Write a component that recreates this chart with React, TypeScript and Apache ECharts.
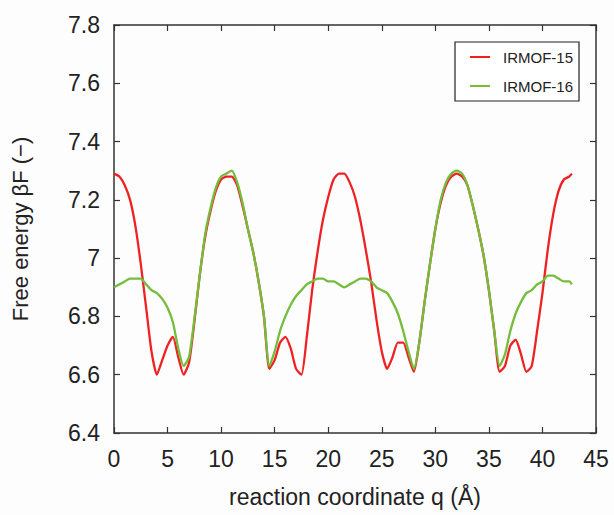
import React, { useEffect, useRef } from "react";
import * as echarts from "echarts";

const qValues = [
  0, 0.5, 1, 1.5, 2, 2.5, 3, 3.5, 4, 4.5, 5, 5.5, 6, 6.5, 7, 7.5, 8, 8.5, 9, 9.5,
  10, 10.5, 11, 11.5, 12, 12.5, 13, 13.5, 14, 14.5, 15, 15.5, 16, 16.5, 17, 17.5, 18, 18.5, 19, 19.5,
  20, 20.5, 21, 21.5, 22, 22.5, 23, 23.5, 24, 24.5, 25, 25.5, 26, 26.5, 27, 27.5, 28, 28.5, 29, 29.5,
  30, 30.5, 31, 31.5, 32, 32.5, 33, 33.5, 34, 34.5, 35, 35.5, 36, 36.5, 37, 37.5, 38, 38.5, 39, 39.5,
  40, 40.5, 41, 41.5, 42, 42.5, 42.75,
];

const irmof15 = [
  7.29, 7.28, 7.25, 7.2, 7.11, 6.98, 6.83, 6.68, 6.6, 6.65, 6.7, 6.73, 6.66, 6.6, 6.64, 6.78, 6.94, 7.07, 7.16, 7.23,
  7.27, 7.28, 7.28, 7.25, 7.18, 7.1, 7.02, 6.92, 6.8, 6.62, 6.65, 6.71, 6.73, 6.69, 6.62, 6.6, 6.73, 6.89, 7.02, 7.13,
  7.21, 7.27, 7.29, 7.29, 7.26, 7.21, 7.13, 7.03, 6.92, 6.79, 6.68, 6.62, 6.66, 6.71, 6.71, 6.66, 6.61, 6.71, 6.85, 6.98,
  7.1, 7.19, 7.25, 7.28, 7.29, 7.28, 7.25, 7.18, 7.1, 7.01, 6.89, 6.75, 6.61, 6.63, 6.7, 6.72, 6.67, 6.61, 6.63, 6.75,
  6.88, 7.03, 7.15, 7.23, 7.27, 7.28, 7.29,
];

const irmof16 = [
  6.9, 6.91, 6.92, 6.93, 6.93, 6.93, 6.91, 6.89, 6.88, 6.86, 6.83, 6.78, 6.69, 6.63, 6.66, 6.79, 6.94, 7.08, 7.17, 7.24,
  7.28, 7.29, 7.3, 7.26, 7.19, 7.1, 7.02, 6.92, 6.8, 6.63, 6.68, 6.75, 6.8, 6.84, 6.87, 6.89, 6.91, 6.92, 6.93, 6.93,
  6.92, 6.92, 6.91, 6.9, 6.91, 6.92, 6.93, 6.93, 6.92, 6.9, 6.89, 6.88, 6.85, 6.81, 6.75, 6.68, 6.62, 6.71, 6.85, 6.98,
  7.1, 7.2, 7.26, 7.29, 7.3, 7.29, 7.25, 7.18, 7.1, 7.01, 6.89, 6.75, 6.63, 6.67, 6.75, 6.81, 6.85, 6.88, 6.89, 6.91,
  6.92, 6.94, 6.94, 6.93, 6.92, 6.92, 6.91,
];

const seriesNames = ["IRMOF-15", "IRMOF-16"];
const xTitle = "reaction coordinate q (Å)";
const yTitle = "Free energy βF (−)";

export default function App() {
  const ref = useRef<HTMLDivElement>(null);
  useEffect(() => {
    if (!ref.current) return;
    const chart = echarts.init(ref.current, null, { renderer: "svg" });
    const font = "'Liberation Sans', Arial, Helvetica, sans-serif";
    const axisColor = "#333";
    const pair = (ys: number[]) => qValues.map((q, i) => [q, ys[i]]);
    chart.setOption({
      animation: false,
      backgroundColor: "#fdfdfd",
      grid: { left: 114, right: 18, top: 25, bottom: 82 },
      legend: {
        orient: "vertical",
        left: 455,
        top: 42,
        data: seriesNames.map((n) => ({ name: n, icon: "rect" })),
        itemWidth: 20,
        itemHeight: 2,
        itemGap: 11,
        padding: [6, 6, 6, 15],
        borderColor: "#222",
        borderWidth: 1.2,
        borderRadius: 0,
        backgroundColor: "#fff",
        textStyle: { fontFamily: font, fontSize: 15, color: "#222", padding: [0, 0, 0, 8], lineHeight: 18 },
      },
      xAxis: [
        {
          type: "value",
          min: 0,
          max: 45,
          interval: 5,
          name: xTitle,
          nameLocation: "middle",
          nameGap: 52,
          nameTextStyle: { fontFamily: font, fontSize: 23, color: "#222" },
          axisLine: { onZero: false, lineStyle: { color: axisColor, width: 1.5 } },
          axisTick: { inside: true, length: 6, lineStyle: { color: axisColor, width: 1.2 } },
          axisLabel: { fontFamily: font, fontSize: 23, color: "#222", margin: 14 },
          splitLine: { show: false },
        },
        {
          type: "value",
          position: "top",
          min: 0,
          max: 45,
          interval: 5,
          axisLine: { onZero: false, lineStyle: { color: axisColor, width: 1.5 } },
          axisTick: { inside: true, length: 6, lineStyle: { color: axisColor, width: 1.2 } },
          axisLabel: { show: false },
          splitLine: { show: false },
        },
      ],
      yAxis: [
        {
          type: "value",
          min: 6.4,
          max: 7.8,
          interval: 0.2,
          name: yTitle,
          nameLocation: "middle",
          nameGap: 83,
          nameTextStyle: { fontFamily: font, fontSize: 22, color: "#222" },
          axisLine: { show: true, onZero: false, lineStyle: { color: axisColor, width: 1.5 } },
          axisTick: { show: true, inside: true, length: 6, lineStyle: { color: axisColor, width: 1.2 } },
          axisLabel: {
            fontFamily: font,
            fontSize: 23,
            color: "#222",
            margin: 14,
            formatter: (v: number) => String(+v.toFixed(1)),
          },
          splitLine: { show: false },
        },
        {
          type: "value",
          position: "right",
          min: 6.4,
          max: 7.8,
          interval: 0.2,
          axisLine: { show: true, onZero: false, lineStyle: { color: axisColor, width: 1.5 } },
          axisTick: { show: true, inside: true, length: 6, lineStyle: { color: axisColor, width: 1.2 } },
          axisLabel: { show: false },
          splitLine: { show: false },
        },
      ],
      series: [
        {
          name: seriesNames[0],
          type: "line",
          data: pair(irmof15),
          showSymbol: false,
          symbol: "none",
          smooth: 0.2,
          color: "#ee2222",
          lineStyle: { color: "#ee2222", width: 2.3 },
        },
        {
          name: seriesNames[1],
          type: "line",
          data: pair(irmof16),
          showSymbol: false,
          symbol: "none",
          smooth: 0.2,
          color: "#74bd3c",
          lineStyle: { color: "#74bd3c", width: 2.3 },
        },
      ],
    });
    return () => chart.dispose();
  }, []);
  return <div ref={ref} style={{ width: 614, height: 515, position: "absolute", left: 0, top: 0 }} />;
}
